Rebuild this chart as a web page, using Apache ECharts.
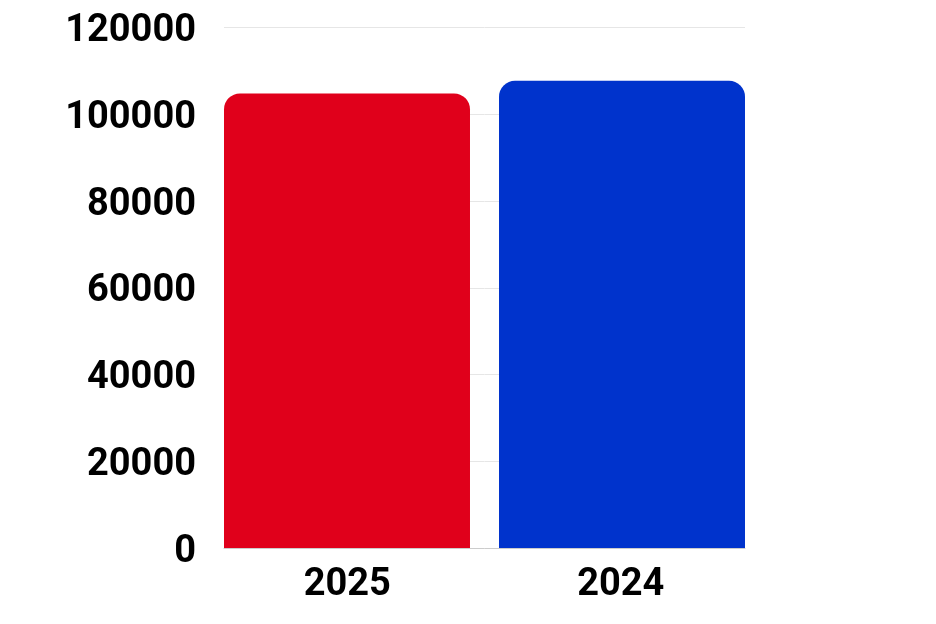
<!DOCTYPE html>
<html>
<head>
<meta charset="utf-8">
<script src="https://cdn.jsdelivr.net/npm/echarts@6/dist/echarts.min.js"></script>
<style>
html,body{margin:0;padding:0;background:#fff;}
#main{width:936px;height:624px;}
</style>
</head>
<body>
<div id="main"></div>
<script>
var categories = ['2025', '2024'];
var values = [104800, 107700];
var colors = ['#E0001B', '#0033CC'];
var yMin = 0, yMax = 120000, yInterval = 20000;

var chart = echarts.init(document.getElementById('main'), null, {renderer: 'canvas'});
var series = categories.map(function (c, i) {
  return {
    type: 'bar',
    name: c,
    barWidth: 246,
    barGap: '-94.1%',
    data: categories.map(function (_, j) { return j === i ? values[i] : '-'; }),
    itemStyle: {color: colors[i], borderRadius: [16, 16, 0, 0]}
  };
});
chart.setOption({
  animation: false,
  grid: {left: 224, right: 191, top: 27.5, bottom: 76, containLabel: false},
  xAxis: {
    type: 'category',
    data: categories,
    axisTick: {show: false},
    axisLine: {lineStyle: {color: '#cccccc', width: 1}},
    axisLabel: {
      margin: 18,
      formatter: function (v, i) { return i === 0 ? '{a|' + v + '}' : '{b|' + v + '}'; },
      rich: {
        a: {fontFamily: 'Roboto', fontWeight: 'bold', fontSize: 38, color: '#000', padding: [0, 14, 0, 0]},
        b: {fontFamily: 'Roboto', fontWeight: 'bold', fontSize: 38, color: '#000', padding: [0, 0, 0, 12]}
      }
    }
  },
  yAxis: {
    type: 'value',
    min: yMin, max: yMax, interval: yInterval,
    axisLine: {show: false},
    axisTick: {show: false},
    splitLine: {lineStyle: {color: '#e6e6e6', width: 1}},
    axisLabel: {
      margin: 28,
      formatter: function (v) { return '{v|' + String(v) + '}'; },
      rich: {
        v: {fontFamily: 'Roboto', fontWeight: 'bold', fontSize: 38, color: '#000', padding: [8, 0, 0, 0]}
      }
    }
  },
  series: series
});
</script>
</body>
</html>
